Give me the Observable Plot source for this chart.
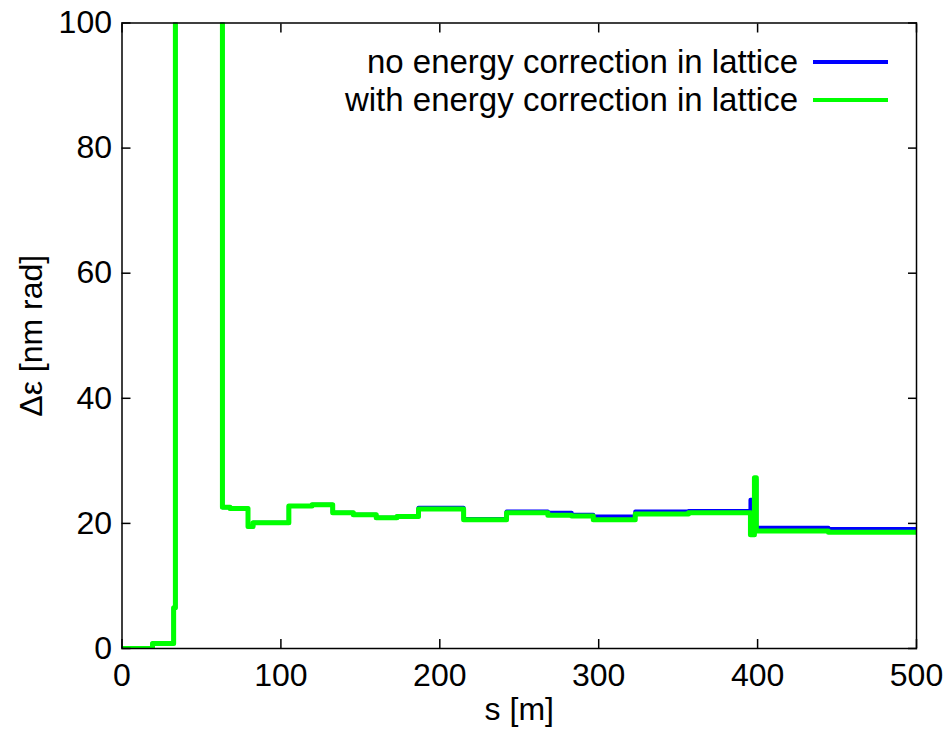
<!DOCTYPE html>
<html>
<head>
<meta charset="utf-8">
<script src="https://cdn.jsdelivr.net/npm/d3@7"></script>
<script src="https://cdn.jsdelivr.net/npm/@observablehq/plot@0.6"></script>
<style>
  html, body { margin: 0; padding: 0; background: #fff; }
  #wrap { position: relative; width: 945px; height: 729px; font-family: "Liberation Sans", Arial, sans-serif; }
  .lg-text { position: absolute; right: 147px; font-size: 33px; line-height: 38px; color: #000; white-space: nowrap; }
  .lg-line { position: absolute; left: 813px; width: 75px; height: 4px; }
</style>
</head>
<body>
<div id="wrap"></div>
<script>
// s positions of the step changes [m]
const sSteps = [0, 19.2, 32.5, 33.6, 63.2, 68, 79.3, 82.5, 105, 119.6, 132.6, 145.6, 160, 173, 186.6, 215, 242, 268, 283, 296.6, 323, 356.5, 395.5, 398, 399.2, 444.6, 500];
// Δε [nm rad], no energy correction in lattice (blue)
const noCorr = [0, 0.8, 6.5, 150, 22.6, 22.4, 19.5, 20.1, 22.8, 23.0, 21.7, 21.4, 20.9, 21.1, 22.5, 20.7, 21.9, 21.7, 21.4, 21.1, 21.9, 22.0, 23.8, 27.0, 19.3, 19.1, 19.0];
// Δε [nm rad], with energy correction in lattice (green)
const withCorr = [0, 0.8, 6.5, 150, 22.6, 22.4, 19.5, 20.1, 22.8, 23.0, 21.7, 21.4, 20.9, 21.1, 22.3, 20.6, 21.7, 21.3, 21.2, 20.6, 21.5, 21.7, 18.2, 27.3, 18.8, 18.6, 18.6];

const seriesNames = ["no energy correction in lattice", "with energy correction in lattice"];
const seriesColors = ["#0000ff", "#00ff00"];
const xTicks = [0, 100, 200, 300, 400, 500];
const yTicks = [0, 20, 40, 60, 80, 100];
const xLabel = "s [m]";
const yLabel = "Δε [nm rad]";

const blueData = sSteps.map((s, i) => ({s, v: noCorr[i]}));
const greenData = sSteps.map((s, i) => ({s, v: withCorr[i]}));

const font = "\"Liberation Sans\", Arial, sans-serif";

const chart = Plot.plot({
  width: 945,
  height: 729,
  marginLeft: 121.5,
  marginRight: 29,
  marginTop: 22.5,
  marginBottom: 81,
  style: { fontFamily: font, fontSize: "32px", color: "#000", background: "#fff" },
  x: { domain: [0, 500], ticks: xTicks },
  y: { domain: [0, 100], ticks: yTicks },
  marks: [
    Plot.line(blueData, { x: "s", y: "v", curve: "step-after", stroke: seriesColors[0], strokeWidth: 4, clip: true }),
    Plot.line(greenData, { x: "s", y: "v", curve: "step-after", stroke: seriesColors[1], strokeWidth: 5, clip: true }),
    Plot.axisX({ anchor: "bottom", ticks: xTicks, tickSize: 0, tickPadding: 15, label: null }),
    Plot.axisY({ anchor: "left", ticks: yTicks, tickSize: 0, tickPadding: 10, label: null }),
    Plot.axisX({ anchor: "bottom", ticks: xTicks, tickSize: -9, tickFormat: () => "", label: null, strokeWidth: 1.5 }),
    Plot.axisX({ anchor: "top", ticks: xTicks, tickSize: -9, tickFormat: () => "", label: null, strokeWidth: 1.5 }),
    Plot.axisY({ anchor: "left", ticks: yTicks, tickSize: -9, tickFormat: () => "", label: null, strokeWidth: 1.5 }),
    Plot.axisY({ anchor: "right", ticks: yTicks, tickSize: -9, tickFormat: () => "", label: null, strokeWidth: 1.5 }),
    Plot.frame({ stroke: "#000", strokeWidth: 1.5 }),
    Plot.text([xLabel], { text: d => d, frameAnchor: "bottom", textAnchor: "middle", lineAnchor: "middle", dy: 61, fontSize: 32 }),
    Plot.text([yLabel], { text: d => d, frameAnchor: "left", textAnchor: "middle", lineAnchor: "middle", dx: -90.5, rotate: -90, fontSize: 32 })
  ]
});

const wrap = document.getElementById("wrap");
wrap.appendChild(chart);

// legend
const rowsY = [62, 100];
seriesNames.forEach((name, i) => {
  const t = document.createElement("div");
  t.className = "lg-text";
  t.style.top = (rowsY[i] - 19) + "px";
  t.textContent = name;
  wrap.appendChild(t);
  const l = document.createElement("div");
  l.className = "lg-line";
  l.style.top = (rowsY[i] - 2) + "px";
  l.style.background = seriesColors[i];
  wrap.appendChild(l);
});
</script>
</body>
</html>
